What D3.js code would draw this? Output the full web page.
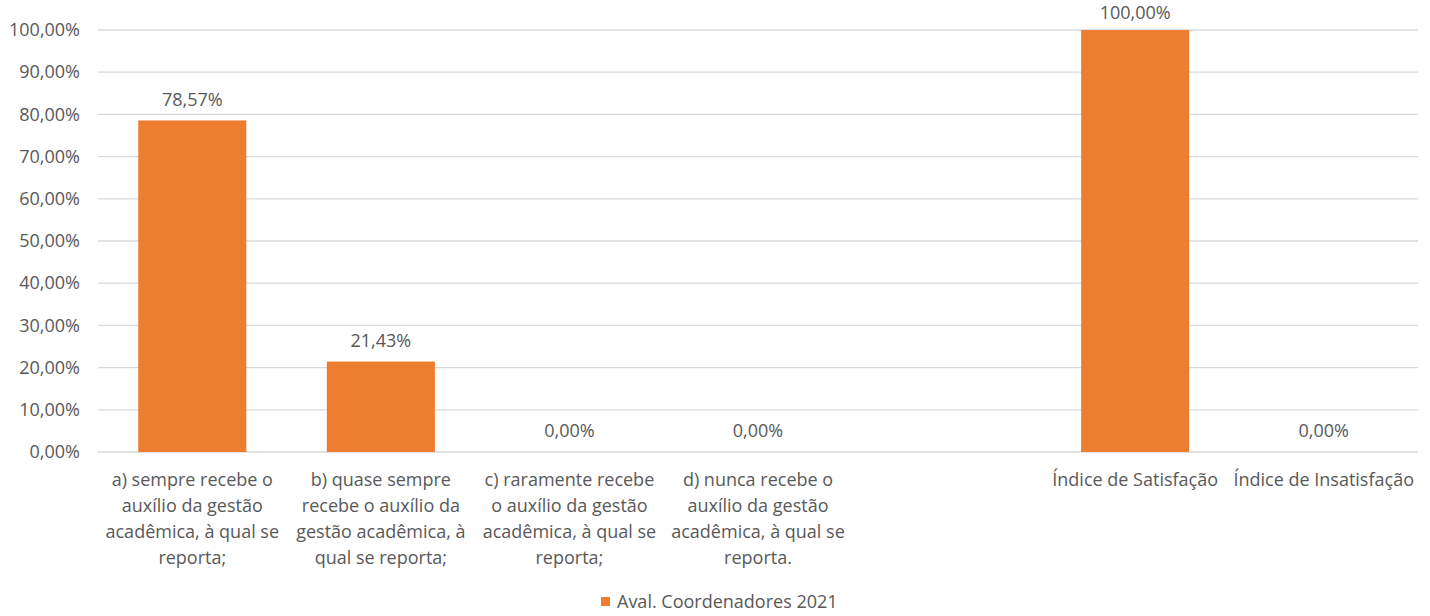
<!DOCTYPE html>
<html>
<head>
<meta charset="utf-8">
<script src="https://cdn.jsdelivr.net/npm/d3@7"></script>
<style>
  html, body { margin: 0; padding: 0; background: #ffffff; }
  svg { display: block; font-family: "Open Sans", "Liberation Sans", Arial, sans-serif; }
</style>
</head>
<body>
<svg id="chart" width="1430" height="616"></svg>
<script>
// ---- Data ----
const categories = ["a", "b", "c", "d", "gap", "sat", "insat"];
const categoryLabels = [
  ["a) sempre recebe o", "auxílio da gestão", "acadêmica, à qual se", "reporta;"],
  ["b) quase sempre", "recebe o auxílio da", "gestão acadêmica, à", "qual se reporta;"],
  ["c) raramente recebe", "o auxílio da gestão", "acadêmica, à qual se", "reporta;"],
  ["d) nunca recebe o", "auxílio da gestão", "acadêmica, à qual se", "reporta."],
  [],
  ["Índice de Satisfação"],
  ["Índice de Insatisfação"]
];
const values = [78.57, 21.43, 0, 0, null, 100, 0];
const yTicks = [0, 10, 20, 30, 40, 50, 60, 70, 80, 90, 100];
const seriesName = "Aval. Coordenadores 2021";

// ---- Layout ----
const svg = d3.select("#chart");
const mLeft = 98, mRight = 1418, mTop = 30, mBottom = 452;
const color = "#ED7D31";
const textColor = "#595959";
const fontFamily = "Open Sans, Liberation Sans, Arial, sans-serif";
const fs = 18;

const x = d3.scaleBand().domain(categories).range([mLeft, mRight])
  .paddingInner(0.427).paddingOuter(0.2135);
const y = d3.scaleLinear().domain([0, 100]).range([mBottom, mTop]);

const fmt = v => v.toFixed(2).replace(".", ",") + "%";

// gridlines
svg.append("g").selectAll("line").data(yTicks).join("line")
  .attr("x1", mLeft).attr("x2", mRight)
  .attr("y1", d => y(d)).attr("y2", d => y(d))
  .attr("stroke", "#d9d9d9").attr("stroke-width", 1.3);

// y axis labels
const yAxis = d3.axisLeft(y).tickValues(yTicks).tickFormat(fmt).tickSize(0).tickPadding(18);
const gy = svg.append("g").attr("transform", `translate(${mLeft},0)`).call(yAxis);
gy.select(".domain").remove();
gy.selectAll("text").attr("fill", textColor).attr("font-size", fs)
  .attr("font-family", fontFamily);

// bars
const data = categories.map((c, i) => ({ c, v: values[i], lines: categoryLabels[i] }));
svg.append("g").selectAll("rect").data(data.filter(d => d.v !== null && d.v > 0)).join("rect")
  .attr("x", d => x(d.c)).attr("width", x.bandwidth())
  .attr("y", d => y(d.v)).attr("height", d => y(0) - y(d.v))
  .attr("fill", color);

// value labels
svg.append("g").selectAll("text").data(data.filter(d => d.v !== null)).join("text")
  .attr("x", d => x(d.c) + x.bandwidth() / 2)
  .attr("y", d => Math.max(y(d.v) - 21, 13))
  .attr("dy", "0.35em")
  .attr("text-anchor", "middle")
  .attr("font-size", fs)
  .attr("fill", textColor)
  .text(d => fmt(d.v));

// category labels
const gx = svg.append("g");
data.forEach(d => {
  const cx = x(d.c) + x.bandwidth() / 2;
  d.lines.forEach((line, j) => {
    gx.append("text")
      .attr("x", cx)
      .attr("y", 480 + j * 26)
      .attr("dy", "0.35em")
      .attr("text-anchor", "middle")
      .attr("font-size", fs)
      .attr("fill", textColor)
      .text(line);
  });
});

// legend
const lg = svg.append("g");
lg.append("rect").attr("x", 601).attr("y", 597).attr("width", 9).attr("height", 9).attr("fill", color);
lg.append("text").attr("x", 617).attr("y", 602).attr("dy", "0.35em")
  .attr("font-size", fs).attr("fill", textColor).text(seriesName);
</script>
</body>
</html>
